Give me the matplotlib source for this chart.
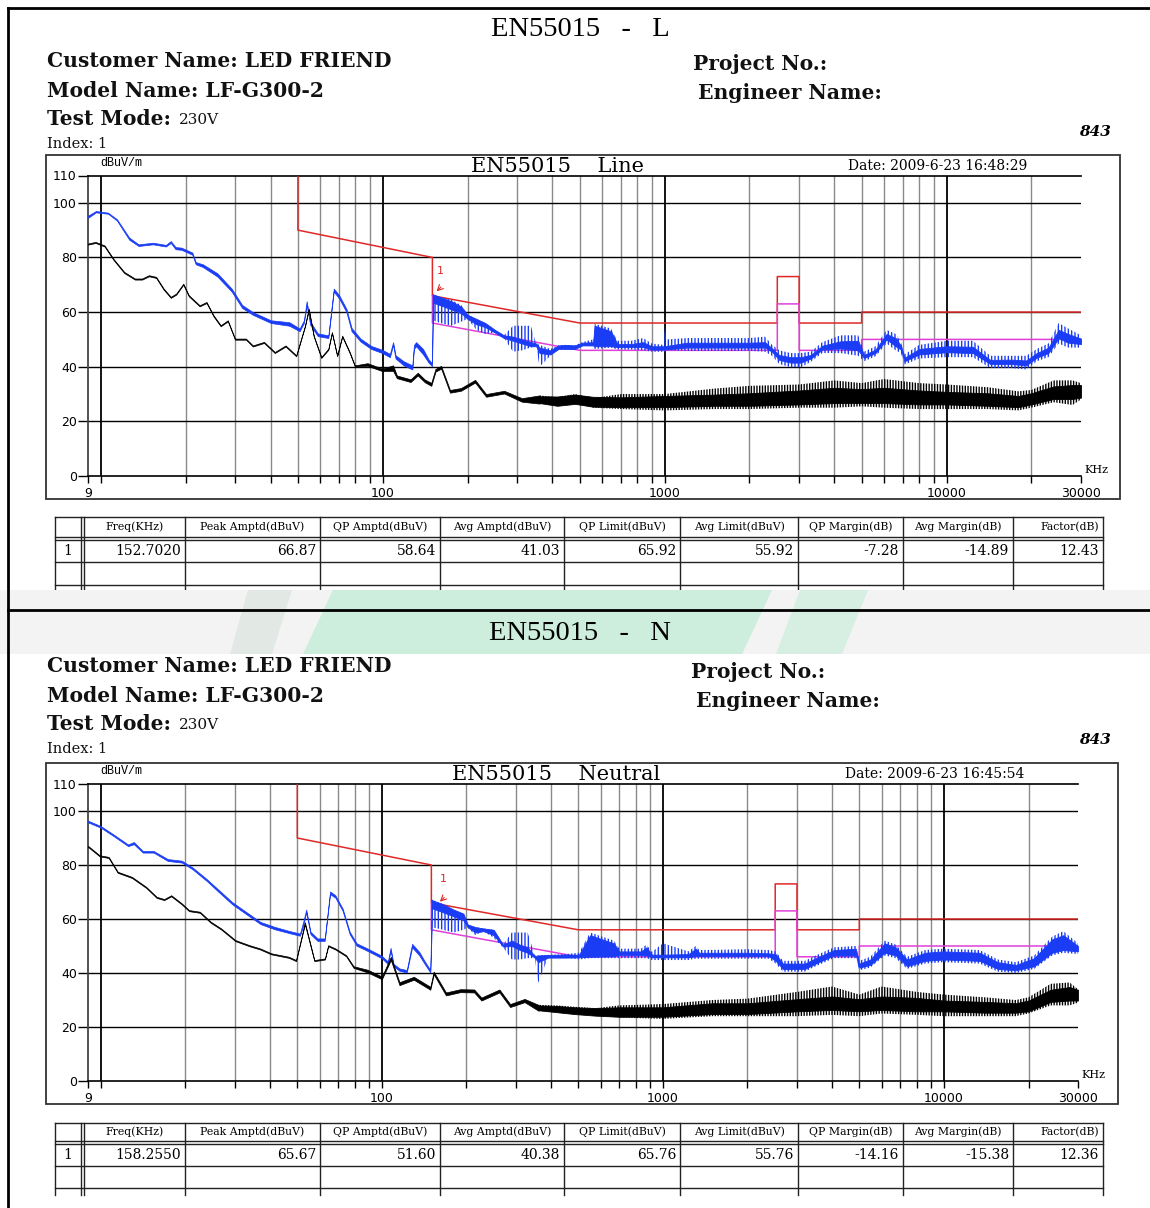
import numpy as np
import matplotlib
matplotlib.use("Agg")
import matplotlib.pyplot as plt
from matplotlib.patches import Rectangle, Polygon

# ---------------- data ----------------
grid_minor = [20, 30, 40, 50, 60, 70, 80, 90, 200, 300, 400, 500, 600, 700, 800, 900,
              2000, 3000, 4000, 5000, 6000, 7000, 8000, 9000, 20000]
grid_major = [10, 100, 1000, 10000]
xtick_labelled = [9, 100, 1000, 10000, 30000]
xtick_texts = ["9", "100", "1000", "10000", "30000"]
ytick_vals = [0, 20, 40, 60, 80, 100, 110]
yhlines = [20, 40, 60, 80, 100]

# EN55015 limits
qp_f = [50, 50, 150, 150, 500, 2510, 2510, 3000, 3000, 5000, 5000, 30000]
qp_v = [110, 90, 80, 66, 56, 56, 73, 73, 56, 56, 60, 60]
av_f = [150, 150, 500, 2510, 2510, 3000, 3000, 5000, 5000, 30000]
av_v = [66, 56, 46, 46, 63, 63, 46, 46, 50, 50]

# ---- Line (L): peak trace (blue), outer envelope
L_pk_f = [9, 9.6, 10.6, 11.4, 12.6, 13.6, 15.3, 17.0, 17.7, 18.4,
          19.3, 21.1, 21.7, 23.0, 25.9, 29.1, 31.7, 34.6, 36.7, 40.1,
          46.6, 50.7, 52.5, 53.7, 55.3, 58.8, 64.1, 67.0, 70.0, 74.3,
          77.5, 83.4, 91.0, 99.6, 106, 108.8, 111, 118.6, 127.3, 129,
          131.3, 139, 145.4, 149.5, 150.5, 160, 175, 190, 200, 215,
          231, 250, 269, 290, 312, 335, 350, 360, 393, 420,
          444, 480, 511, 557, 565, 645, 680, 760, 839, 900,
          990, 1000, 1020, 1200, 1500, 2000, 2270, 2405, 2550, 2800,
          3040, 3300, 3625, 4200, 4860, 5100, 5600, 6130, 6600, 6890,
          7100, 8000, 10000, 12400, 14300, 17000, 19170, 20900, 23000, 25000,
          27000, 30000]
L_pk_lo = [94.5, 96.5, 96, 93.5, 86.5, 84.2, 84.8, 84, 85.3, 83,
           82.8, 81, 77.5, 76.5, 73, 67.5, 61.5, 59, 57.8, 56,
           55, 53, 56, 62.5, 55.3, 51.2, 50.5, 67.5, 65, 60,
           53, 49.2, 46.5, 45, 43.5, 48, 43, 40.5, 39, 46.5,
           47.5, 44.5, 41.5, 40.2, 57, 56, 55, 56.5, 57.5, 53.5,
           52, 52.5, 50.5, 45.5, 46, 47, 47.5, 40, 44, 46.5,
           46.5, 46.5, 47.8, 47.5, 46.5, 47, 46.3, 46.3, 46, 45.5,
           45.5, 45.5, 46, 45.8, 45.8, 45.8, 45.5, 44, 41, 39.8,
           39.8, 41.8, 45, 45, 44, 42, 43.8, 48.5, 46, 45,
           40.8, 43, 43.5, 43.5, 39.5, 39.5, 39, 42, 43.5, 48.5,
           47, 47]
L_pk_hi = [95.3, 97.0, 96.4, 94.0, 87.3, 84.8, 85.4, 84.6, 86, 83.8,
           83.6, 81.8, 78.3, 77.5, 74.2, 68.6, 62.6, 60, 58.8, 57,
           56.3, 54, 57, 64, 56.5, 52.2, 51.5, 68.6, 66.2, 61.2,
           54.2, 50.3, 47.6, 46.2, 44.7, 49, 44.2, 42, 40.5, 48,
           49, 46.5, 42.7, 41.3, 66.5, 65.5, 64.5, 62.5, 59, 57.5,
           56, 53.5, 51.5, 55, 55, 55, 48.5, 48, 46.5, 47.8,
           48, 47.8, 49, 50, 55.7, 54, 49.5, 49.5, 50.5, 48.5,
           48, 54, 50, 50.5, 50.5, 50.5, 51, 48, 46, 45,
           45, 45.5, 49, 51.5, 51.5, 45.5, 47.5, 53.5, 52, 49,
           44.5, 48, 49.5, 49.5, 44, 44, 44, 46.5, 48.5, 56,
           54, 51.5]
# dense core of the peak trace
L_pkc_f = [150.5, 160, 175, 190, 200, 215, 231, 250, 269, 290,
           312, 335, 350, 360, 393, 420, 444, 480, 511, 557,
           565, 645, 680, 760, 839, 900, 1000, 1200, 1500, 2000,
           2270, 2405, 2550, 2800, 3040, 3300, 3625, 4200, 4860, 5100,
           5600, 6130, 6600, 6890, 7100, 8000, 10000, 12400, 14300, 17000,
           19170, 20900, 23000, 25000, 27000, 30000]
L_pkc_lo = [63.5, 62.5, 61, 59.5, 57.5, 55.5, 54.5, 52.5, 50.5, 49.5,
            48.5, 47.5, 47.5, 45, 44.5, 46.5, 46.5, 46.5, 47.8, 47.8,
            47.5, 47.5, 47.2, 47.2, 47.2, 46.3, 46.3, 47, 47, 47,
            47, 45.5, 42.5, 41.5, 41.5, 43, 46.3, 46.7, 46, 43.2,
            45, 50, 47.5, 46.3, 42, 44.5, 45.3, 45, 41, 41,
            40.5, 43.3, 45, 50.5, 48.8, 48.3]
L_pkc_hi = [66.5, 65.5, 64, 62, 59, 57.5, 56, 53.5, 51.5, 51,
            50, 49, 48.5, 47, 46, 47.8, 48, 47.8, 48.8, 49,
            55, 53, 48.3, 48.3, 49, 47.5, 47.5, 48.8, 48.8, 48.8,
            49, 46.7, 44.3, 43.5, 43.5, 44.3, 47.7, 49.3, 49.5, 44.3,
            46.3, 52, 50.5, 47.7, 43.3, 46.5, 47.5, 47.3, 42.5, 42.6,
            42.3, 45, 47, 53.5, 52, 50.3]

# ---- Line (L): average trace (black), outer envelope
L_av_f = [9, 9.57, 10.3, 11.1, 12.1, 13.2, 14.0, 14.8, 15.7, 16.7,
          17.7, 18.5, 19.6, 20.5, 22.4, 23.7, 25.1, 26.6, 28.2, 29.9,
          32.7, 34.6, 37.9, 41.4, 45.2, 49.3, 53.0, 54.6, 56.9, 60.5,
          64.1, 66.0, 68.9, 71.8, 76.3, 79.6, 88.3, 99.6, 108.8, 112.2,
          125.5, 133.1, 141.0, 148.6, 153.8, 161.1, 173.2, 189.4, 212.6, 232.6,
          269.5, 311.5, 360, 416, 481, 556, 700, 1000, 1500, 2000,
          3000, 4000, 5000, 6000, 8000, 10000, 14000, 18000, 20000, 24000,
          28000, 30000]
L_av_lo = [84.7, 85.3, 84, 79, 74.3, 71.9, 71.9, 73.1, 72.5, 68.2,
           65.2, 66.4, 70, 65.8, 62.1, 63.3, 58.4, 54.8, 56.6, 49.9,
           49.9, 47.4, 48.7, 45, 47.4, 43.8, 54.8, 60.9, 51, 43.2,
           46.2, 52.3, 43.8, 51, 45, 40.1, 40.3, 38.4, 38.5, 35.8,
           34.4, 36.8, 34.3, 33, 38.2, 39.3, 30.5, 31.2, 34.2, 29,
           30.2, 27.2, 26.5, 25.8, 26.8, 25, 24.5, 24, 24.5, 24.5,
           25, 25, 25.5, 25, 24.5, 24.5, 24.5, 24, 25, 27,
           26, 28]
L_av_hi = [85.1, 85.7, 84.4, 79.4, 74.7, 72.3, 72.3, 73.5, 72.9, 68.6,
           65.6, 66.8, 70.4, 66.2, 62.5, 63.7, 58.8, 55.2, 57, 50.3,
           50.3, 47.8, 49.1, 45.4, 47.8, 44.2, 55.2, 61.3, 51.4, 43.6,
           46.6, 52.7, 44.2, 51.4, 45.4, 40.5, 41.3, 39.3, 40.5, 36.8,
           35.4, 37.8, 35.3, 34.1, 39.2, 40.3, 31.5, 32.2, 35.2, 30,
           31.2, 28.5, 29.5, 28.8, 30, 28.5, 30, 30, 32, 33,
           33.5, 35, 34, 35.5, 34, 33.5, 32.5, 31, 31.5, 35,
           35, 34]
L_avc_f = [360, 416, 481, 556, 700, 1000, 1500, 2000, 3000, 4000,
           5000, 6000, 8000, 10000, 14000, 18000, 20000, 24000, 28000, 30000]
L_avc_lo = [26.7, 25.7, 26.4, 25.4, 25.2, 25.2, 25.7, 25.7, 26.2, 26.7,
            26.7, 26.7, 26.2, 26.2, 25.7, 25.2, 26.2, 28.2, 28.2, 28.7]
L_avc_hi = [29.2, 29.1, 29.8, 29, 28.8, 29.3, 29.8, 30.3, 31.3, 32.3,
            31.8, 32.3, 31.3, 30.8, 30.3, 29.3, 30.3, 32.8, 33.3, 33.3]

# ---- Neutral (N): peak trace (blue), outer envelope
N_pk_f = [9, 10, 11.1, 12.5, 13.1, 14.1, 15.4, 17.3, 19.4, 21.2,
          23.8, 26.0, 29.3, 32.9, 37.0, 41.5, 46.7, 51.1, 52.5, 53.8,
          55.7, 59.0, 62.6, 65.4, 68.3, 72.5, 76.8, 81.3, 88.8, 99.8,
          105, 107.4, 110, 115.5, 122.6, 128.1, 135.9, 142.1, 148.7, 150.5,
          165, 180, 195, 202, 215, 230, 250, 270, 290, 310,
          330, 350, 360, 390, 450, 503, 551, 669, 700, 836,
          874, 914, 1000, 1232, 1308, 1347, 2000, 2375, 2520, 2675,
          3200, 3500, 4060, 4860, 5000, 5470, 6160, 6740, 7390, 8560,
          9940, 13400, 15550, 18050, 20950, 24300, 26600, 30000]
N_pk_lo = [95.8, 93.8, 90.7, 87, 87.7, 84.6, 84.6, 81.5, 80.9, 78.4,
           74.1, 70.4, 65.5, 61.8, 58.1, 56.2, 54.8, 53.8, 57.5, 62.5,
           54.4, 51.9, 51.9, 69.2, 67.9, 63, 54.4, 50.1, 48.2, 45.5,
           43.3, 48.3, 42.5, 40.8, 40.2, 49.5, 46.5, 43.3, 40.2, 57,
           56, 55, 56, 56.8, 54, 55.5, 53, 49.5, 45, 45,
           45.5, 45.5, 36.4, 45.7, 45.7, 45, 45.5, 45.5, 45.5, 45.5,
           45.5, 44.8, 44.8, 44.8, 45.3, 45.3, 45.3, 45.3, 43.5, 40.5,
           40.5, 42.5, 45.5, 45.5, 41, 42, 46.5, 45.5, 41.5, 43.5,
           44, 43.5, 40.5, 40, 41.5, 46.5, 47.5, 47]
N_pk_hi = [96.4, 94.4, 91.3, 87.6, 88.5, 85.2, 85.2, 82.2, 81.6, 79.1,
           74.8, 71.2, 66.3, 62.6, 58.9, 57.1, 55.6, 54.6, 59, 63.5,
           55.3, 52.8, 52.8, 70.2, 68.8, 63.9, 55.3, 51, 49.1, 46.4,
           44.3, 49.3, 43.4, 41.7, 41.1, 50.8, 47.8, 44.3, 41.1, 67.2,
           65.5, 63, 62, 57.8, 57, 56.5, 56, 50.5, 55, 55,
           55, 46.5, 46.5, 46.7, 47, 47.5, 55, 52, 49, 49,
           50.5, 47.8, 51, 48, 50, 48.5, 48.8, 48.5, 48, 44.5,
           44.5, 46.5, 49.5, 50, 44.5, 46, 52, 50.5, 46, 48.5,
           49, 48.5, 45, 44, 46.5, 53.5, 55.5, 51]
N_pkc_f = [150.5, 165, 180, 195, 202, 215, 230, 250, 270, 290,
           310, 330, 350, 360, 390, 450, 503, 551, 669, 700,
           836, 874, 914, 1000, 1232, 1308, 1347, 2000, 2375, 2520,
           2675, 3200, 3500, 4060, 4860, 5000, 5470, 6160, 6740, 7390,
           8560, 9940, 13400, 15550, 18050, 20950, 24300, 26600, 30000]
N_pkc_lo = [64, 62.5, 61, 59.5, 57, 55, 55.5, 54, 49.8, 50,
            48.5, 47.5, 45.7, 44, 45.7, 45.7, 45.8, 46, 46.2, 46.7,
            46.7, 46.5, 45.8, 45.8, 45.8, 46.3, 46.3, 46.3, 46.3, 44.5,
            41.5, 41.5, 43.5, 46.5, 46.5, 42, 43, 47.5, 46.5, 42.5,
            44.5, 45, 44.5, 41.5, 41, 42.5, 47.5, 48.5, 48]
N_pkc_hi = [67, 65.5, 63.5, 62, 58, 57, 56.5, 56, 50.5, 52,
            50.5, 49.5, 46.3, 46.5, 46.7, 46.8, 46.8, 54, 51, 48,
            48, 49.5, 46.8, 46.8, 47, 49, 47.5, 47.5, 47.3, 47,
            43.5, 43.5, 45.5, 48.5, 49, 43.5, 45, 51, 49.5, 45,
            47.5, 48, 47.5, 44, 43, 45.5, 52.5, 54, 50]

# ---- Neutral (N): average trace (black), outer envelope
N_av_f = [9, 9.9, 10.66, 11.48, 12.9, 14.5, 15.8, 16.8, 17.8, 19.4,
          20.6, 22.5, 24.6, 26.8, 30.1, 33.8, 36.9, 40.4, 46.7, 49.5,
          53.2, 57.5, 62.7, 64.4, 68.3, 74.6, 79.3, 89.0, 100, 107.6,
          115.5, 129.9, 148.7, 152.9, 169.1, 190, 213, 226, 262, 286,
          322, 361, 418, 484, 576, 700, 1000, 1500, 2000, 3000,
          4000, 5000, 6000, 8000, 10000, 14000, 18000, 20000, 24000, 28000,
          30000]
N_av_lo = [86.7, 83.2, 82.6, 77.1, 75.2, 71.5, 67.8, 67, 68.4, 65.4,
           62.9, 62.3, 58.6, 56.1, 51.8, 49.9, 48.7, 46.9, 45.6, 44.4,
           58, 44.4, 45, 49.9, 48.7, 46.2, 41.9, 40.2, 37.7, 44.8,
           35.5, 37.5, 33.8, 39.5, 31.7, 32.9, 32.8, 29.8, 32.8, 27.4,
           29.2, 26, 25.5, 24.8, 24.2, 23.5, 23, 24, 24, 24,
           24.5, 24, 25, 24.5, 24, 24, 24, 25, 28, 28,
           29]
N_av_hi = [87.1, 83.6, 83, 77.5, 75.6, 71.9, 68.2, 67.4, 68.8, 65.8,
           63.3, 62.7, 59, 56.5, 52.2, 50.3, 49.1, 47.3, 46, 44.8,
           58.8, 44.8, 45.4, 50.3, 49.1, 46.6, 42.5, 41.2, 38.7, 46,
           36.6, 38.6, 34.9, 40.5, 32.8, 34, 33.9, 30.9, 33.9, 28.5,
           30.4, 28.2, 28, 27.5, 27, 28, 28.5, 30, 30.5, 33,
           35, 32, 35, 33, 32, 31, 30, 31, 36, 36.5,
           34]
N_avc_f = [361, 418, 484, 576, 700, 1000, 1500, 2000, 3000, 4000,
           5000, 6000, 8000, 10000, 14000, 18000, 20000, 24000, 28000, 30000]
N_avc_lo = [26.2, 25.5, 24.8, 24.2, 23.8, 23.8, 24.8, 24.8, 25.8, 26.3,
            25.8, 26.3, 25.8, 25.8, 25.3, 25.3, 25.8, 29.3, 29.8, 29.8]
N_avc_hi = [28, 27.8, 27.3, 27, 27.3, 27.3, 28.8, 28.8, 30.3, 31.3,
            30.3, 31.3, 30.8, 29.8, 29.3, 28.8, 29.8, 33.8, 34.8, 33.8]

# markers (peak of index 1)
L_mark = (152.702, 66.87)
N_mark = (158.255, 65.67)

# result tables
table_header = ["", "Freq(KHz)", "Peak Amptd(dBuV)", "QP Amptd(dBuV)", "Avg Amptd(dBuV)",
                "QP Limit(dBuV)", "Avg Limit(dBuV)", "QP Margin(dB)", "Avg Margin(dB)", "Factor(dB)"]
L_row = ["1", "152.7020", "66.87", "58.64", "41.03", "65.92", "55.92", "-7.28", "-14.89", "12.43"]
N_row = ["1", "158.2550", "65.67", "51.60", "40.38", "65.76", "55.76", "-14.16", "-15.38", "12.36"]

# ---------------- figure ----------------
plt.rcParams["hatch.linewidth"] = 1.0
W, H = 1150, 1208
fig = plt.figure(figsize=(W / 100, H / 100), dpi=100)
bg = fig.add_axes([0, 0, 1, 1])
bg.set_xlim(0, W)
bg.set_ylim(H, 0)
bg.axis("off")

SERIF = "DejaVu Serif"
BLUE = "#1a3cf5"
RED = "#e02828"
MAG = "#e040d8"

# watermark band
bg.add_patch(Rectangle((0, 590), W, 64, facecolor="#f2f3f2", edgecolor="none", zorder=5))
bg.add_patch(Polygon([(248, 590), (292, 590), (272, 654), (230, 654)], closed=True,
                     facecolor="#e2e9e4", edgecolor="none", zorder=5))
bg.add_patch(Polygon([(333, 590), (772, 590), (742, 654), (303, 654)], closed=True,
                     facecolor="#cdeedd", edgecolor="none", zorder=5))
bg.add_patch(Polygon([(800, 590), (868, 590), (842, 654), (776, 654)], closed=True,
                     facecolor="#d6efe2", edgecolor="none", zorder=5))

# outer frame
bg.plot([8, 8], [8, H], color="black", lw=2, zorder=6)
bg.plot([8, W], [8, 8], color="black", lw=2, zorder=6)
bg.plot([8, W], [610, 610], color="black", lw=2, zorder=6)


def header(y0, title, x_proj, y_proj, x_eng, y_eng, y843):
    bg.text(580, y0, title, ha="center", va="center", fontsize=20.5,
            family="Liberation Serif", zorder=7)
    kw = dict(ha="left", va="center", fontsize=14.6, family=SERIF, weight="bold",
              color="#111111", zorder=7)
    bg.text(47, y0 + 32, "Customer Name: LED FRIEND", **kw)
    bg.text(47, y0 + 62, "Model Name: LF-G300-2", **kw)
    bg.text(47, y0 + 90, "Test Mode:", **kw)
    bg.text(179, y0 + 91, "230V", ha="left", va="center", fontsize=11, family=SERIF,
            color="#111111", zorder=7)
    bg.text(47, y0 + 115, "Index: 1", ha="left", va="center", fontsize=10.5, family=SERIF,
            color="#111111", zorder=7)
    bg.text(x_proj, y_proj, "Project No.:", **kw)
    bg.text(x_eng, y_eng, "Engineer Name:", **kw)
    bg.text(1111, y843, "843", ha="right", va="center", fontsize=11, family=SERIF,
            weight="bold", style="italic", zorder=7)


header(29, "EN55015   -   L", 693, 64, 698, 93, 132)
header(634, "EN55015   -   N", 691, 672, 696, 701, 740)


def trace(ax, env, core, color, z, hatch):
    f, lo, hi = (np.asarray(a, dtype=float) for a in env)
    cf, clo, chi = (np.asarray(a, dtype=float) for a in core)
    solid = f <= cf[0]
    fuzzy = f >= cf[0]
    ax.fill_between(f[solid], lo[solid], hi[solid], facecolor=color, edgecolor=color,
                    lw=0.5, zorder=z)
    ax.fill_between(f[fuzzy], lo[fuzzy], hi[fuzzy], facecolor="none", edgecolor=color,
                    hatch=hatch, lw=0, zorder=z)
    ax.fill_between(cf, clo, chi, facecolor=color, edgecolor=color, lw=0.6, zorder=z)


def chart(box, plot, ctitle, ctitle_x, date, date_x, pk, pkc, av, avc, mark):
    bx0, by0, bx1, by1 = box
    bg.add_patch(Rectangle((bx0, by0), bx1 - bx0, by1 - by0, facecolor="none",
                           edgecolor="#333333", lw=1.3, zorder=3))
    bg.text(ctitle_x, by0 + 11, ctitle, ha="left", va="center", fontsize=15,
            family=SERIF, zorder=3)
    bg.text(date_x, by0 + 11, date, ha="left", va="center", fontsize=10,
            family=SERIF, zorder=3)
    bg.text(bx0 + 54, by0 + 8, "dBuV/m", ha="left", va="center", fontsize=8.5,
            family="Liberation Mono", zorder=3)
    px0, py0, px1, py1 = plot
    bg.text(px1 + 3, py1 - 6, "KHz", ha="left", va="center", fontsize=8,
            family=SERIF, zorder=3)

    ax = fig.add_axes([px0 / W, 1 - py1 / H, (px1 - px0) / W, (py1 - py0) / H])
    ax.patch.set_visible(False)
    ax.set_xscale("log")
    ax.set_xlim(9, 30000)
    ax.set_ylim(0, 110)
    for f in grid_minor:
        ax.axvline(f, color="#8a8a8a", lw=1.0, zorder=1)
    for f in grid_major:
        ax.axvline(f, color="black", lw=1.3, zorder=1)
    for v in yhlines:
        ax.axhline(v, color="black", lw=1.0, zorder=1)
    for s in ["top", "bottom"]:
        ax.spines[s].set_color("black")
        ax.spines[s].set_linewidth(1.2)
    ax.spines["left"].set_color("#444444")
    ax.spines["left"].set_linewidth(1.3)
    ax.spines["right"].set_visible(False)

    ax.set_yticks(ytick_vals)
    ax.set_yticklabels([str(v) for v in ytick_vals], family="DejaVu Sans", fontsize=9)
    ax.tick_params(axis="y", direction="out", length=7, width=1, pad=1)
    xt = sorted(set([9] + grid_major + grid_minor + [30000]))
    ax.set_xticks(xt)
    ax.set_xticklabels([xtick_texts[xtick_labelled.index(f)] if f in xtick_labelled else ""
                        for f in xt], family="DejaVu Sans", fontsize=9)
    ax.minorticks_off()
    ax.tick_params(axis="x", direction="out", length=5, width=1, pad=3)

    ax.plot(qp_f, qp_v, color=RED, lw=1.1, zorder=3)
    ax.plot(av_f, av_v, color=MAG, lw=1.1, zorder=3)
    trace(ax, pk, pkc, BLUE, 4, "|||||")
    trace(ax, av, avc, "black", 5, "||||||")

    ax.annotate("", xy=mark, xytext=(mark[0] * 1.07, mark[1] + 3),
                arrowprops=dict(arrowstyle="->", color=RED, lw=0.8), zorder=6)
    ax.text(mark[0] * 1.02, 75, "1", color=RED, fontsize=8, family="DejaVu Sans",
            ha="left", va="center", zorder=6)
    return ax


chart((46, 155, 1120, 499), (88, 175.5, 1081, 476), "EN55015    Line", 471,
      "Date: 2009-6-23 16:48:29", 848,
      (L_pk_f, L_pk_lo, L_pk_hi), (L_pkc_f, L_pkc_lo, L_pkc_hi),
      (L_av_f, L_av_lo, L_av_hi), (L_avc_f, L_avc_lo, L_avc_hi), L_mark)
chart((46, 763, 1118, 1104), (88, 784, 1078, 1081), "EN55015    Neutral", 452,
      "Date: 2009-6-23 16:45:54", 845,
      (N_pk_f, N_pk_lo, N_pk_hi), (N_pkc_f, N_pkc_lo, N_pkc_hi),
      (N_av_f, N_av_lo, N_av_hi), (N_avc_f, N_avc_lo, N_avc_hi), N_mark)

# ---------------- tables ----------------
cols = [55, 81, 185, 320, 440, 564, 680, 798, 903, 1013, 1103]


def table(ytop, yhead, yrow1, yrow2, yend, row):
    lc = "#222222"
    for x in cols:
        bg.plot([x, x], [ytop, yend], color=lc, lw=1.0, zorder=3)
    bg.plot([84, 84], [ytop, yend], color=lc, lw=1.0, zorder=3)
    for y in [ytop, yhead, yhead + 3, yrow1, yrow2]:
        bg.plot([cols[0], cols[-1]], [y, y], color=lc, lw=1.0, zorder=3)
    yh = (ytop + yhead) / 2
    yr = (yhead + 3 + yrow1) / 2
    for i, t in enumerate(table_header):
        if not t:
            continue
        x0 = 84 if i == 1 else cols[i]
        x1 = cols[i + 1]
        if i == len(table_header) - 1:
            bg.text(x1 - 4, yh, t, ha="right", va="center", fontsize=7.8,
                    family=SERIF, zorder=3)
        else:
            bg.text((x0 + x1) / 2, yh, t, ha="center", va="center", fontsize=7.8,
                    family=SERIF, zorder=3)
    for i, t in enumerate(row):
        if i == 0:
            bg.text((cols[0] + cols[1]) / 2, yr, t, ha="center", va="center",
                    fontsize=10, family=SERIF, zorder=3)
        else:
            bg.text(cols[i + 1] - 4, yr, t, ha="right", va="center",
                    fontsize=10, family=SERIF, zorder=3)


table(517, 537, 562, 585, 592, L_row)
table(1123, 1141, 1166, 1188, 1195, N_row)

fig.savefig("out.png", dpi=100)
